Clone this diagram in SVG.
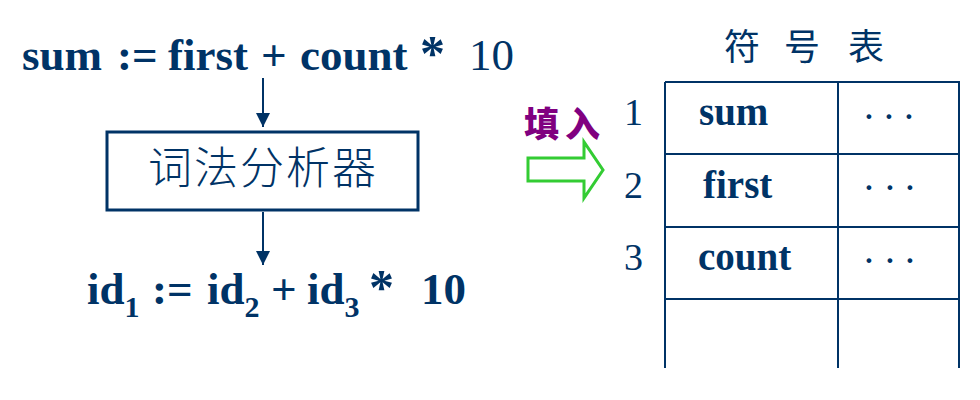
<svg xmlns="http://www.w3.org/2000/svg" width="980" height="400" viewBox="0 0 980 400">
<style>
.b{font-family:"Liberation Serif","Times New Roman",serif;font-weight:bold;fill:#003366}
.r{font-family:"Liberation Serif","Times New Roman",serif;fill:#003366}
.cjk{font-family:"Noto Sans CJK SC","Noto Sans CJK TC",sans-serif;fill:#003366}
.ln{stroke:#003366;stroke-width:2;fill:none}
.dots{font-family:"Liberation Serif",serif;font-size:40px;fill:#003366;text-anchor:middle}
</style>
<defs>
<marker id="ah" markerUnits="userSpaceOnUse" markerWidth="16" markerHeight="16" refX="14" refY="7" orient="auto">
<path d="M0,0 L14,7 L0,14 Z" fill="#003366"/>
</marker>
</defs>
<rect width="980" height="400" fill="#ffffff"/>

<g id="source">
<text class="b" font-size="45" y="70"><tspan x="22">sum</tspan><tspan x="117">:=</tspan><tspan x="168">first</tspan><tspan x="261">+</tspan><tspan x="300">count</tspan><tspan x="420" font-size="50">*</tspan></text>
<text class="r" font-size="45" x="469" y="70">10</text>
</g>

<g id="lexer">
<rect x="107" y="132" width="311" height="78" fill="#ffffff" stroke="#003366" stroke-width="3"/>
<text class="cjk" font-size="44" font-weight="300" x="263" y="184" text-anchor="middle" letter-spacing="2">词法分析器</text>
</g>

<g id="tokens">
<text class="b" font-size="45" y="304"><tspan x="87">id</tspan><tspan font-size="30" y="317">1</tspan><tspan x="152" y="304">:=</tspan><tspan x="207">id</tspan><tspan font-size="30" y="317">2</tspan><tspan x="271" y="304">+</tspan><tspan x="307">id</tspan><tspan font-size="30" y="317">3</tspan><tspan x="369" y="304" font-size="50">*</tspan><tspan x="421" font-size="45">10</tspan></text>
</g>

<g id="fill-label">
<text font-family="'Noto Sans CJK SC',sans-serif" font-weight="900" font-size="35" fill="#800080" x="524" y="137" letter-spacing="6">填入</text>
<path d="M528,158 L584,158 L584,142 L603,170 L584,198 L584,181 L528,181 Z" fill="#ffffff" stroke="#33cc33" stroke-width="3" stroke-linejoin="miter"/>
</g>

<g id="symbol-table">
<text class="cjk" font-size="36" y="60" text-anchor="middle"><tspan x="742">符</tspan><tspan x="802">号</tspan><tspan x="866">表</tspan></text>
<line class="ln" x1="665" y1="82" x2="960" y2="82"/>
<line class="ln" x1="665" y1="154" x2="960" y2="154"/>
<line class="ln" x1="665" y1="227" x2="960" y2="227"/>
<line class="ln" x1="665" y1="299" x2="960" y2="299"/>
<line class="ln" x1="665" y1="82" x2="665" y2="368"/>
<line class="ln" x1="838" y1="82" x2="838" y2="368"/>
<line class="ln" x1="959" y1="82" x2="959" y2="368"/>
<text class="r" font-size="38" x="624" y="125">1</text>
<text class="r" font-size="38" x="624" y="198">2</text>
<text class="r" font-size="38" x="624" y="270">3</text>
<text class="b" font-size="39" x="699" y="125">sum</text>
<text class="b" font-size="39" x="703" y="198">first</text>
<text class="b" font-size="39" x="698" y="270">count</text>
<text class="dots" x="869 889 909" y="130">···</text>
<text class="dots" x="869 890 910" y="201">···</text>
<text class="dots" x="869 890 910" y="274">···</text>
</g>

<g id="connectors">
<line class="ln" x1="263" y1="78" x2="263" y2="127" stroke-width="2.5" marker-end="url(#ah)"/>
<line class="ln" x1="263" y1="212" x2="263" y2="265" stroke-width="2.5" marker-end="url(#ah)"/>
</g>
</svg>
